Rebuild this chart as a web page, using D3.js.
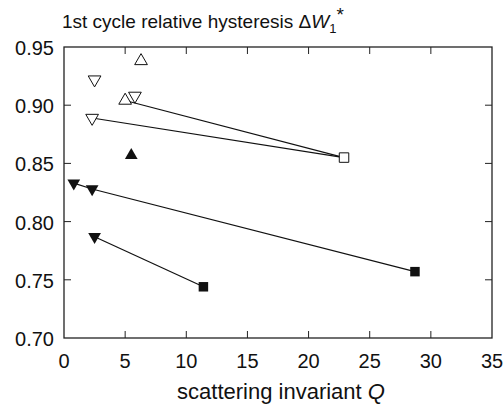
<!DOCTYPE html>
<html>
<head>
<meta charset="utf-8">
<script src="https://cdn.jsdelivr.net/npm/d3@7"></script>
<style>
  body { margin: 0; background: #fff; }
  text { font-family: "Liberation Sans", Arial, sans-serif; fill: #111; }
</style>
</head>
<body>
<svg width="504" height="407"></svg>
<script>
// data
const xTicks = [0, 5, 10, 15, 20, 25, 30, 35];
const yTicks = [0.70, 0.75, 0.80, 0.85, 0.90, 0.95];

// open symbols
const openUp = [[6.3, 0.938], [5.0, 0.904]];
const openDown = [[2.5, 0.922], [5.8, 0.908], [2.3, 0.889]];
const openSquare = [[22.9, 0.855]];

// filled symbols
const filledUp = [[5.5, 0.857]];
const filledDown = [[0.8, 0.833], [2.3, 0.828], [2.5, 0.787]];
const filledSquare = [[28.7, 0.757], [11.4, 0.744]];

// connecting lines
const links = [
  [[5.0, 0.904], [22.9, 0.855]],
  [[2.3, 0.889], [22.9, 0.855]],
  [[0.8, 0.833], [2.3, 0.828], [28.7, 0.757]],
  [[2.5, 0.787], [11.4, 0.744]]
];

const svg = d3.select("svg");
const mLeft = 64, mRight = 492, mTop = 47, mBottom = 338;

const x = d3.scaleLinear().domain([0, 35]).range([mLeft, mRight]);
const y = d3.scaleLinear().domain([0.70, 0.95]).range([mBottom, mTop]);

const g = svg.append("g");

// frame
g.append("rect")
  .attr("x", mLeft).attr("y", mTop)
  .attr("width", mRight - mLeft).attr("height", mBottom - mTop)
  .attr("fill", "none").attr("stroke", "#222").attr("stroke-width", 1.3);

// ticks inward on all sides
const tl = 7;
g.selectAll(".xt").data(xTicks.slice(1, -1)).enter().append("line")
  .attr("x1", d => x(d)).attr("x2", d => x(d))
  .attr("y1", mBottom).attr("y2", mBottom - tl)
  .attr("stroke", "#222");
g.selectAll(".xt2").data(xTicks.slice(1, -1)).enter().append("line")
  .attr("x1", d => x(d)).attr("x2", d => x(d))
  .attr("y1", mTop).attr("y2", mTop + tl)
  .attr("stroke", "#222");
g.selectAll(".yt").data(yTicks.slice(1, -1)).enter().append("line")
  .attr("x1", mLeft).attr("x2", mLeft + tl)
  .attr("y1", d => y(d)).attr("y2", d => y(d))
  .attr("stroke", "#222");
g.selectAll(".yt2").data(yTicks.slice(1, -1)).enter().append("line")
  .attr("x1", mRight).attr("x2", mRight - tl)
  .attr("y1", d => y(d)).attr("y2", d => y(d))
  .attr("stroke", "#222");

// tick labels
g.selectAll(".xl").data(xTicks).enter().append("text")
  .attr("x", d => x(d)).attr("y", mBottom + 30)
  .attr("text-anchor", "middle")
  .style("font-size", "20px")
  .text(d => d);
g.selectAll(".yl").data(yTicks).enter().append("text")
  .attr("x", mLeft - 10).attr("y", d => y(d) + 8)
  .attr("text-anchor", "end")
  .style("font-size", "20px")
  .text(d => d.toFixed(2));

// titles
const t = svg.append("text").attr("x", 62).attr("y", 28).style("font-size", "19px");
t.append("tspan").text("1st cycle relative hysteresis \u0394");
t.append("tspan").style("font-style", "italic").text("W");
t.append("tspan").attr("dy", 5).style("font-size", "13px").text("1");
t.append("tspan").attr("dy", -12).text("*");

const xt = svg.append("text").attr("x", 281).attr("y", 399)
  .attr("text-anchor", "middle").style("font-size", "22px");
xt.append("tspan").text("scattering invariant ");
xt.append("tspan").style("font-style", "italic").text("Q");

// lines
const line = d3.line().x(d => x(d[0])).y(d => y(d[1]));
g.selectAll(".link").data(links).enter().append("path")
  .attr("d", line).attr("fill", "none")
  .attr("stroke", "#111").attr("stroke-width", 1.2);

// markers
const triUp = d3.symbol().type(d3.symbolTriangle).size(70);
function triDown(sel) {
  sel.attr("d", triUp()).attr("transform", d => `translate(${x(d[0])},${y(d[1])}) rotate(180)`);
}
function triUpPos(sel) {
  sel.attr("d", triUp()).attr("transform", d => `translate(${x(d[0])},${y(d[1])})`);
}
const sq = d3.symbol().type(d3.symbolSquare).size(90);

g.selectAll(".ou").data(openUp).enter().append("path")
  .call(triUpPos).attr("fill", "#fff").attr("stroke", "#111").attr("stroke-width", 1);
g.selectAll(".od").data(openDown).enter().append("path")
  .call(triDown).attr("fill", "#fff").attr("stroke", "#111").attr("stroke-width", 1);
g.selectAll(".os").data(openSquare).enter().append("path")
  .attr("d", sq()).attr("transform", d => `translate(${x(d[0])},${y(d[1])})`)
  .attr("fill", "#fff").attr("stroke", "#111").attr("stroke-width", 1);

g.selectAll(".fu").data(filledUp).enter().append("path")
  .call(triUpPos).attr("fill", "#111");
g.selectAll(".fd").data(filledDown).enter().append("path")
  .call(triDown).attr("fill", "#111");
g.selectAll(".fs").data(filledSquare).enter().append("path")
  .attr("d", sq()).attr("transform", d => `translate(${x(d[0])},${y(d[1])})`)
  .attr("fill", "#111");
</script>
</body>
</html>
